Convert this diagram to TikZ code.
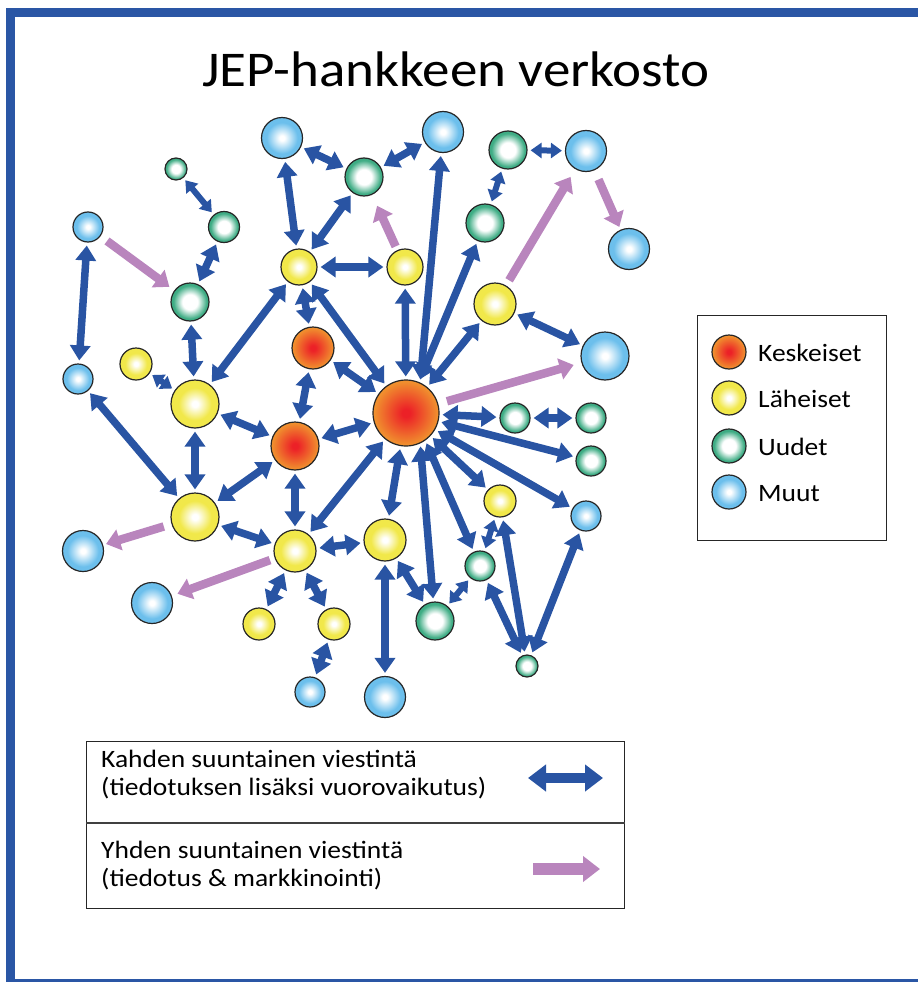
\documentclass[tikz,border=0pt]{standalone}
\usepackage{fontspec}
\setmainfont{Carlito}[FakeStretch=1.1]
\usetikzlibrary{arrows.meta}

\definecolor{frameblue}{HTML}{2A56A5}
\definecolor{linkblue}{HTML}{2954A3}
\definecolor{linkpink}{HTML}{B985BD}
\definecolor{kred}{HTML}{EC2127}
\definecolor{korange}{HTML}{F0902E}
\definecolor{lyellow}{HTML}{F1E84A}
\definecolor{ugreen}{HTML}{3EAC84}
\definecolor{mblue}{HTML}{6CBFEC}

% radial fills for the four groups of partners (25bp = circle edge)
\pgfdeclareradialshading{keskshade}{\pgfpoint{0bp}{0bp}}{color(0bp)=(kred); color(3bp)=(kred); color(24bp)=(korange); color(50bp)=(korange)}
\pgfdeclareradialshading{lahshade}{\pgfpoint{0bp}{0bp}}{color(0bp)=(white); color(3bp)=(white); color(17bp)=(lyellow); color(50bp)=(lyellow)}
\pgfdeclareradialshading{uusshade}{\pgfpoint{0bp}{0bp}}{color(0bp)=(white); color(10bp)=(white); color(22bp)=(ugreen); color(50bp)=(ugreen)}
\pgfdeclareradialshading{muushade}{\pgfpoint{0bp}{0bp}}{color(0bp)=(white); color(3bp)=(white); color(19bp)=(mblue); color(50bp)=(mblue)}

\tikzset{
  netnode/.style={circle, draw=black!85, line width=1.2pt, inner sep=0pt, shade},
  kesk/.style={netnode, shading=keskshade, minimum size=#1pt},
  lah/.style={netnode, shading=lahshade, minimum size=#1pt},
  uus/.style={netnode, shading=uusshade, minimum size=#1pt},
  muu/.style={netnode, shading=muushade, minimum size=#1pt},
  two/.style={draw=linkblue, line width=7.5pt, >={Triangle[length=15pt,width=20pt]}, <->,
    shorten <=3pt, shorten >=3pt},
  twosmall/.style={two, line width=6pt, >={Triangle[length=11pt,width=15pt]}},
  one/.style={draw=linkpink, line width=8.5pt, -{Triangle[length=14pt,width=21pt]},
    shorten <=7pt, shorten >=7pt},
  legtext/.style={anchor=base west, font=\fontsize{25}{30}\selectfont, inner sep=0pt},
  box/.style={draw=black!85, line width=1.2pt, inner sep=0pt, anchor=north west}
}

\begin{document}
\begin{tikzpicture}[x=1pt, y=-1pt]
\useasboundingbox (0,0) rectangle (918,982);

% frame
\fill[frameblue] (6,8) rectangle (918,17);
\fill[frameblue] (6,8) rectangle (15,982);
\fill[frameblue] (6,979) rectangle (918,982);

\node[anchor=base, font=\fontsize{50}{60}\selectfont, inner sep=0pt] (title) at (456,86) {JEP-hankkeen verkosto};

% partners: others
\node[muu=41] (B1) at (282,138) {};
\node[muu=41] (B2) at (443,132) {};
\node[muu=41] (B3) at (586,151) {};
\node[muu=41] (B4) at (629,249) {};
\node[muu=30] (B5) at (88,227) {};
\node[muu=30] (B6) at (78,379) {};
\node[muu=48] (B7) at (605,356) {};
\node[muu=41] (B8) at (83,551) {};
\node[muu=41] (B9) at (152,603) {};
\node[muu=30] (B10) at (586,516) {};
\node[muu=30] (B11) at (310,692) {};
\node[muu=41] (B12) at (385,697) {};

% partners: new
\node[uus=22] (G1) at (176,169) {};
\node[uus=31] (G2) at (224,227) {};
\node[uus=38] (G3) at (190,302) {};
\node[uus=38] (G4) at (364,177) {};
\node[uus=38] (G5) at (508,150) {};
\node[uus=38] (G6) at (485,223) {};
\node[uus=30] (G7) at (515,418) {};
\node[uus=30] (G8) at (591,418) {};
\node[uus=30] (G9) at (591,461) {};
\node[uus=30] (G10) at (480,566) {};
\node[uus=38] (G11) at (435,621) {};
\node[uus=22] (G12) at (527,666) {};

% partners: close
\node[lah=36] (Y1) at (299,267) {};
\node[lah=36] (Y2) at (405,267) {};
\node[lah=42] (Y3) at (495,304) {};
\node[lah=32] (Y4) at (136,364) {};
\node[lah=48] (Y5) at (195,404) {};
\node[lah=48] (Y6) at (195,517) {};
\node[lah=42] (Y7) at (295,551) {};
\node[lah=42] (Y8) at (385,540) {};
\node[lah=32] (Y9) at (500,501) {};
\node[lah=32] (Y10) at (259,624) {};
\node[lah=32] (Y11) at (334,624) {};

% partners: core
\node[kesk=42] (R1) at (313,348) {};
\node[kesk=48] (R2) at (295,446) {};
\node[kesk=66] (R3) at (406,413) {};

% two-way communication
\draw[two] (B1) -- (Y1);
\draw[two] (B1) -- (G4);
\draw[two] (G4) -- (Y1);
\draw[two] (B2) -- (G4);
\draw[two] (B2) -- (R3.65);
\draw[twosmall] (G1) -- (G2);
\draw[two] (G2) -- (G3);
\draw[two] (B5) -- (B6);
\draw[two] (Y1) -- (Y2);
\draw[two] (Y1) -- (R1);
\draw[two] (Y1) -- (R3);
\draw[two] (Y2) -- (R3);
\draw[two] (G6) -- (R3);
\draw[two] (Y3) -- (R3);
\draw[twosmall] (G5) -- (G6);
\draw[twosmall] (G5) -- (B3);
\draw[two] (Y3) -- (B7);
\draw[two] (G3) -- (Y5);
\draw[twosmall] (Y4) -- (Y5);
\draw[two] (Y5) -- (Y1);
\draw[two] (R1) -- (R2);
\draw[two] (R1) -- (R3);
\draw[two] (Y5) -- (R2);
\draw[two] (R2) -- (R3);
\draw[two] (Y5) -- (Y6);
\draw[two] (B6) -- (Y6);
\draw[two] (Y6) -- (R2);
\draw[two] (Y6) -- (Y7);
\draw[two] (R2) -- (Y7);
\draw[two] (Y7) -- (R3);
\draw[two] (R3) -- (Y8);
\draw[two] (Y7) -- (Y8);
\draw[two] (Y7) -- (Y10);
\draw[two] (Y7) -- (Y11);
\draw[two] (Y11) -- (B11);
\draw[two] (Y8) -- (B12);
\draw[two] (Y8) -- (G11);
\draw[two] (R3.-65) -- (G11);
\draw[twosmall] (G11) -- (G10);
\draw[two] (R3.-55) -- (G10);
\draw[two] (R3) -- (Y9);
\draw[twosmall] (G10) -- (Y9);
\draw[two] (G10) -- (G12);
\draw[two] (Y9) -- (G12);
\draw[two] (B10) -- (G12);
\draw[two] (R3) -- (B10);
\draw[two] (R3) -- (G9);
\draw[two] (R3) -- (G7);
\draw[two] (G7) -- (G8);

% one-way communication
\draw[one, shorten <=8pt, shorten >=6pt] (B5) -- (G3);
\draw[one, shorten <=4pt, shorten >=12pt] (Y2) -- (G4);
\draw[one, shorten <=6pt, shorten >=9pt] (Y3) -- (B3);
\draw[one, shorten <=10pt, shorten >=3pt] (B3) -- (B4);
\draw[one, shorten <=9pt, shorten >=8pt] (R3) -- (B7);
\draw[one, shorten <=8pt, shorten >=3pt] (Y6) -- (B8);
\draw[one, shorten <=5pt, shorten >=6pt] (Y7) -- (B9);

% legend of partner groups
\node[box, minimum width=189pt, minimum height=225pt] (legbox) at (697,315) {};
\node[kesk=34] (lk) at (729,352) {};
\node[lah=34] (ll) at (729,398) {};
\node[uus=34] (lu) at (729,446) {};
\node[muu=34] (lm) at (729,492) {};
\node[legtext] (lkt) at (758,361) {Keskeiset};
\node[legtext] (llt) at (758,407) {Läheiset};
\node[legtext] (lut) at (758,455) {Uudet};
\node[legtext] (lmt) at (758,501) {Muut};

% legend of communication types
\node[box, minimum width=538pt, minimum height=81pt] (twobox) at (86,741) {};
\node[box, minimum width=538pt, minimum height=86pt] (onebox) at (86,822) {};
\draw[black!75, line width=2.4pt] (twobox.south west) -- (twobox.south east);
\node[legtext] (tw1) at (101,767) {Kahden suuntainen viestintä};
\node[legtext] (tw2) at (101,795) {(tiedotuksen lisäksi vuorovaikutus)};
\node[legtext] (ow1) at (101,858) {Yhden suuntainen viestintä};
\node[legtext] (ow2) at (101,886) {(tiedotus \& markkinointi)};
\coordinate (twa) at (528,778);
\coordinate (twb) at (603,778);
\coordinate (owa) at (533,869);
\coordinate (owb) at (600,869);
\draw[two, line width=10pt, >={Triangle[length=18pt,width=26pt]}, shorten <=0pt, shorten >=0pt] (twa) -- (twb);
\draw[one, line width=12pt, -{Triangle[length=17pt,width=25pt]}, shorten <=0pt, shorten >=0pt] (owa) -- (owb);

\end{tikzpicture}
\end{document}
